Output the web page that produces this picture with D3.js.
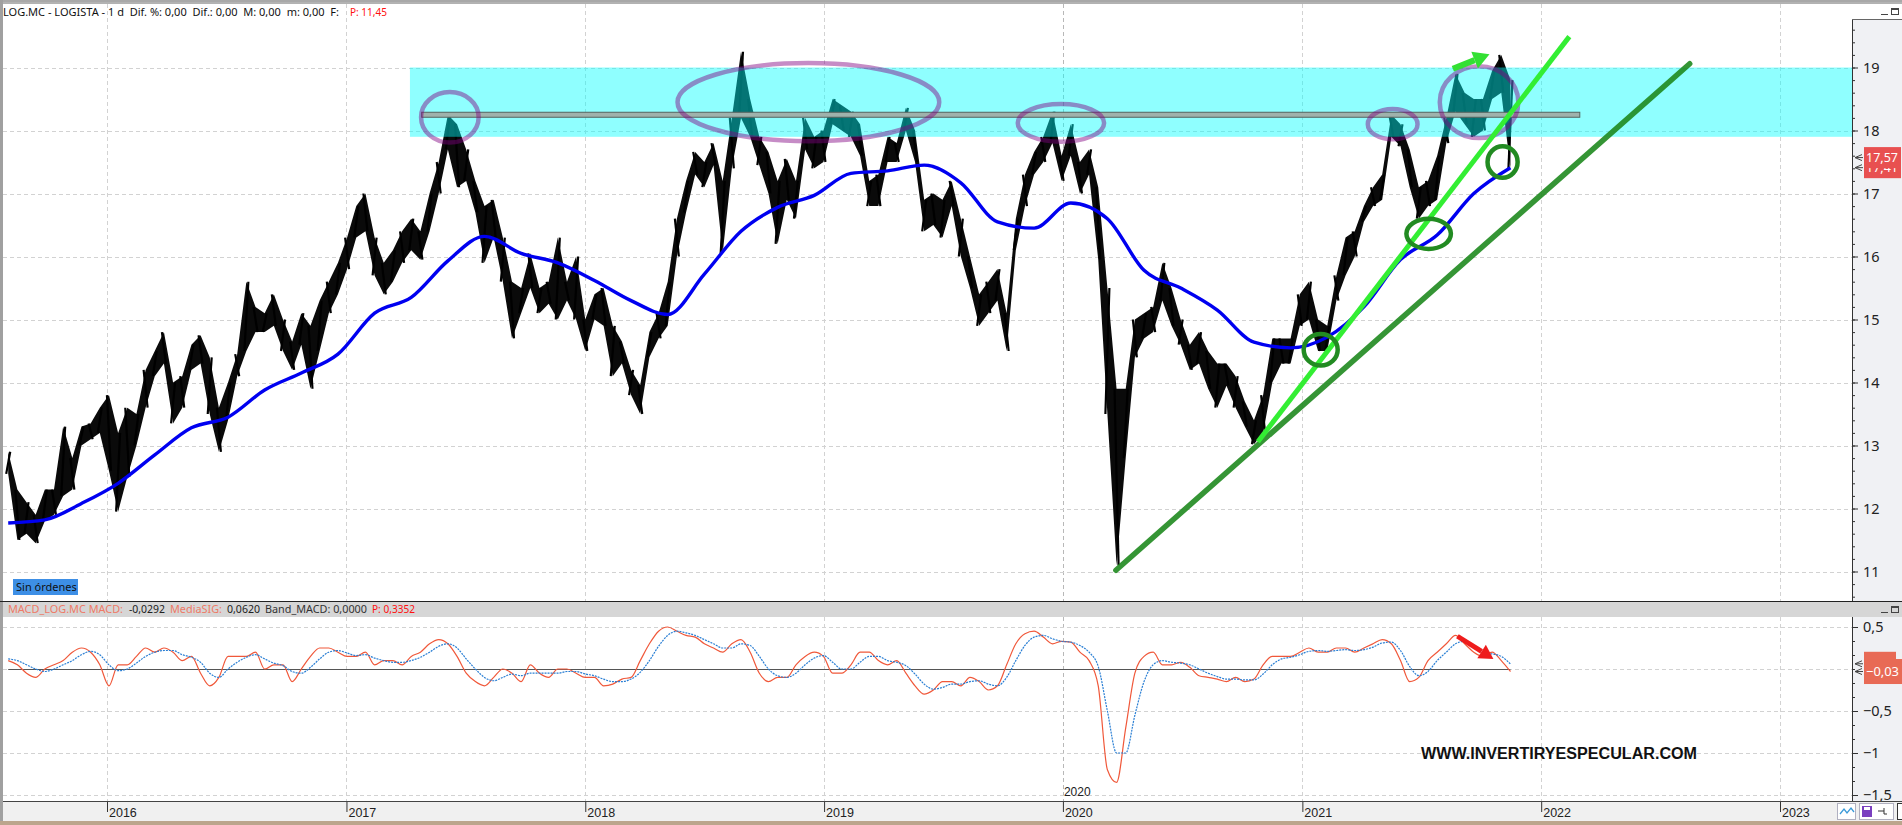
<!DOCTYPE html>
<html><head><meta charset="utf-8">
<script src="https://cdn.jsdelivr.net/npm/d3@7"></script>
<style>
html,body{margin:0;padding:0;background:#fff;overflow:hidden}
svg{display:block}
text{white-space:pre}
</style></head><body>
<svg id="c" width="1902" height="825"></svg>
<script>
// ---------- DATA ----------
const startDate = "2015-08-03";   // first bar (2-week bars)
const stepDays = 14;
const highs = [
12.9,12.3,12.1,11.9,12.3,12.3,13.3,12.8,13.3,13.35,
13.6,13.8,13.2,13.6,13.5,14.2,14.5,14.8,14.0,14.1,
14.6,14.75,14.4,13.6,14.0,14.45,15.6,15.2,15.1,15.4,
15.0,14.65,15.1,14.9,15.3,15.6,15.9,16.3,16.8,17.0,
16.3,15.9,16.1,16.4,16.6,16.4,17.0,17.5,18.25,18.1,
17.7,17.2,16.8,16.9,16.3,15.6,15.5,16.05,15.5,15.6,
16.3,15.6,16.0,15.0,15.4,15.5,14.9,14.65,14.2,13.96,
14.8,15.1,15.6,16.6,17.2,17.66,17.5,17.8,17.2,18.2,
19.25,18.5,17.9,17.66,17.2,17.55,17.2,18.2,17.9,18.0,
18.5,18.4,18.3,18.1,17.2,17.3,17.9,17.8,18.36,18.0,
16.9,17.0,16.9,17.2,16.6,16.0,15.4,15.6,15.8,15.1,
16.6,17.3,17.66,17.9,18.3,17.6,18.1,17.5,17.7,17.1,
15.5,13.9,13.9,15.0,15.1,15.2,15.9,15.5,15.0,14.6,
14.8,14.5,14.3,14.3,14.1,13.7,13.4,13.8,14.7,14.7,
14.7,15.4,15.6,15.0,14.9,15.7,16.3,16.4,16.8,17.1,
17.3,18.25,18.1,17.7,17.1,17.2,17.6,18.2,18.9,18.6,
18.5,18.5,18.95,19.2,18.8];
const lows = [
12.55,11.5,11.6,11.45,11.8,11.9,12.2,12.3,13.0,13.1,
13.2,12.6,11.95,12.5,13.0,13.6,14.1,14.3,13.35,13.6,
14.2,14.3,13.5,12.9,13.4,14.1,14.5,14.8,14.8,14.9,
14.5,14.2,14.6,13.9,14.5,15.1,15.4,15.8,16.3,16.4,
15.7,15.4,15.6,15.9,16.1,15.95,16.4,17.0,17.7,17.1,
17.2,16.7,15.9,16.3,15.6,14.7,15.1,15.5,15.1,15.25,
15.0,15.3,15.0,14.5,15.0,14.9,14.1,14.3,13.8,13.5,
14.4,14.7,14.9,16.0,16.7,17.3,17.1,17.45,16.05,17.4,
18.2,17.9,17.45,17.0,16.2,16.9,16.6,17.7,17.4,17.5,
18.1,18.0,17.9,17.6,16.8,16.8,17.5,17.5,18.0,17.5,
16.4,16.5,16.3,16.8,16.0,15.5,14.9,15.1,15.3,14.5,
16.1,16.8,17.3,17.5,17.8,17.2,17.6,17.0,17.3,15.95,
13.5,11.1,12.8,14.4,14.7,14.8,15.3,14.9,14.6,14.2,
14.3,13.9,13.6,13.95,13.6,13.3,13.02,13.2,14.0,14.3,
14.3,14.9,15.0,14.5,14.5,15.3,15.7,16.0,16.55,16.8,
16.9,17.9,17.75,17.1,16.6,16.8,16.9,17.8,18.3,18.1,
17.9,18.0,18.5,18.6,17.4];
const maStep = 4;  // moving average read every 4th bar
const maValues = [11.77,11.82,12.08,12.4,12.85,13.28,13.45,13.88,14.15,14.45,15.1,15.35,15.93,16.32,16.05,15.9,15.62,15.3,15.08,15.72,16.4,16.78,16.97,17.32,17.36,17.45,17.17,16.55,16.45,16.85,16.6,15.78,15.5,15.15,14.64,14.55,14.72,15.2,15.95,16.34,17.0,17.41];
const macdValues = [
0.1,0.05,-0.05,-0.1,0.0,0.05,0.1,0.2,0.25,0.2,
0.05,-0.2,0.05,0.05,0.15,0.25,0.2,0.25,0.2,0.1,
0.15,-0.05,-0.2,-0.1,0.15,0.15,0.15,0.2,0.0,0.05,
0.05,-0.15,0.0,0.15,0.25,0.25,0.2,0.15,0.15,0.2,
0.05,0.1,0.1,0.05,0.15,0.2,0.3,0.35,0.3,0.15,
-0.05,-0.15,-0.2,-0.1,0.0,-0.05,-0.15,0.05,-0.05,-0.1,
0.0,0.0,-0.05,-0.1,-0.1,-0.2,-0.18,-0.12,-0.1,0.1,
0.3,0.45,0.5,0.45,0.4,0.38,0.3,0.25,0.2,0.3,
0.35,0.2,-0.05,-0.15,-0.1,-0.1,0.05,0.15,0.2,0.15,
-0.05,-0.05,0.05,0.2,0.2,0.1,0.05,0.1,-0.05,-0.2,
-0.3,-0.25,-0.15,-0.15,-0.2,-0.1,-0.15,-0.25,-0.2,0.05,
0.3,0.42,0.45,0.38,0.3,0.33,0.32,0.2,0.1,-0.2,
-1.2,-1.35,-0.7,-0.05,0.15,0.2,0.05,0.05,0.08,0.02,
-0.08,-0.1,-0.12,-0.15,-0.1,-0.15,-0.12,0.05,0.15,0.15,
0.15,0.2,0.25,0.2,0.2,0.25,0.25,0.2,0.25,0.3,
0.35,0.3,0.1,-0.15,-0.1,0.1,0.2,0.3,0.4,0.3,
0.2,0.15,0.2,0.1,-0.03];
const signalValues = [
0.12,0.1,0.05,0.0,-0.03,0.0,0.05,0.1,0.17,0.21,
0.17,0.05,-0.02,0.0,0.07,0.15,0.2,0.22,0.22,0.17,
0.14,0.08,-0.05,-0.1,0.0,0.08,0.14,0.17,0.12,0.07,
0.04,-0.03,-0.05,0.02,0.12,0.2,0.22,0.19,0.16,0.17,
0.13,0.1,0.08,0.08,0.1,0.14,0.2,0.27,0.3,0.25,
0.12,0.0,-0.1,-0.14,-0.1,-0.06,-0.08,-0.05,-0.05,-0.05,
-0.05,-0.03,-0.03,-0.06,-0.08,-0.12,-0.15,-0.15,-0.12,-0.04,
0.1,0.27,0.4,0.45,0.43,0.4,0.35,0.3,0.25,0.25,
0.3,0.28,0.15,0.0,-0.08,-0.1,-0.05,0.05,0.13,0.16,
0.08,0.0,0.0,0.08,0.15,0.15,0.1,0.08,0.04,-0.06,
-0.18,-0.24,-0.22,-0.18,-0.18,-0.15,-0.14,-0.18,-0.2,-0.1,
0.1,0.28,0.38,0.4,0.36,0.33,0.32,0.28,0.2,0.03,
-0.5,-1.0,-1.0,-0.55,-0.15,0.05,0.1,0.08,0.07,0.05,
0.0,-0.05,-0.09,-0.12,-0.12,-0.13,-0.13,-0.06,0.05,0.12,
0.14,0.17,0.21,0.22,0.21,0.22,0.23,0.22,0.23,0.26,
0.31,0.32,0.22,0.03,-0.08,-0.03,0.1,0.2,0.3,0.33,
0.27,0.2,0.18,0.15,0.06];
const priceTicks = [11,12,13,14,15,16,17,18,19];
const macdTicks = [0.5,-0.5,-1,-1.5];
const yearTicks = ["2016","2017","2018","2019","2020","2021","2022","2023"];
const lastPrice = 17.57, lastMA = 17.41, lastMacd = -0.03, lastSignal = 0.062;
// annotations (data space)
const zoneBand = {from:"2017-04-08", to:"2023-12-31", lo:17.9, hi:19.0};
const resistLine = {from:"2017-04-26", to:"2022-03-01", value:18.25};
const purpleEllipses = [
  {date:"2017-06-08", price:18.21, rxDays:44, ry:0.40},
  {date:"2018-12-08", price:18.45, rxDays:200, ry:0.62},
  {date:"2019-12-29", price:18.12, rxDays:66, ry:0.30},
  {date:"2021-05-19", price:18.10, rxDays:38, ry:0.24},
  {date:"2021-09-28", price:18.45, rxDays:60, ry:0.57}];
const greenCircles = [
  {date:"2021-01-29", price:14.52, rxDays:26, ry:0.25},
  {date:"2021-07-13", price:16.36, rxDays:34, ry:0.24},
  {date:"2021-11-03", price:17.50, rxDays:23, ry:0.25}];
const limeTrend = [{date:"2020-10-25", price:13.06},{date:"2022-02-13", price:19.49}];
const darkTrend = [{date:"2020-03-22", price:11.02},{date:"2022-08-16", price:19.06}];
const greenArrow = [{date:"2021-08-19", price:18.98},{date:"2021-10-14", price:19.21}];
const redArrow = [{date:"2021-08-26", v:0.39},{date:"2021-10-20", v:0.12}];

// ---------- SETUP ----------
const svg = d3.select("#c");
const W = 1902, H = 825, AX = 1852;
const parse = d3.timeParse("%Y-%m-%d");
const t0 = parse(startDate);
const dates = highs.map((_, i) => d3.timeDay.offset(t0, i * stepDays));
const x = d3.scaleTime().domain([parse("2016-01-01"), parse("2023-01-01")]).range([107, 1780]);
const yP = d3.scaleLinear().domain([11, 19]).range([571.5, 67.5]);
const yM = d3.scaleLinear().domain([-1.5, 0.5]).range([795, 627]);
const loc = d3.formatLocale({decimal: ",", thousands: ".", grouping: [3], currency: ["", "€"]});
const f2 = loc.format(".2f"), f1 = loc.format("~g");
const FONT = "'Noto Sans', 'Open Sans', sans-serif";

svg.append("rect").attr("width", W).attr("height", H).attr("fill", "#fff");
const P = {top: 4, bottom: 601}, M = {top: 617, bottom: 801};
svg.append("rect").attr("x", AX).attr("y", 19).attr("width", W - AX).attr("height", P.bottom - 19).attr("fill", "#f0f1f4");
svg.append("rect").attr("x", AX).attr("y", M.top).attr("width", W - AX).attr("height", M.bottom - M.top).attr("fill", "#f0f1f4");

svg.append("clipPath").attr("id", "cp").append("rect").attr("x", 3).attr("y", 19).attr("width", AX - 3).attr("height", P.bottom - 19);
svg.append("clipPath").attr("id", "cm").append("rect").attr("x", 3).attr("y", M.top).attr("width", AX - 3).attr("height", M.bottom - M.top);

// grid
const grid = svg.append("g").attr("stroke", "#d2d2d2").attr("stroke-dasharray", "4,3").attr("stroke-width", 1);
yearTicks.forEach(yr => {
  const xx = Math.round(x(parse(yr + "-01-01"))) + 0.5;
  grid.append("line").attr("x1", xx).attr("x2", xx).attr("y1", P.top).attr("y2", P.bottom)
    .attr("stroke", yr === "2020" ? "#b8b8b8" : null);
  grid.append("line").attr("x1", xx).attr("x2", xx).attr("y1", M.top).attr("y2", M.bottom)
    .attr("stroke", yr === "2020" ? "#b8b8b8" : null);
});
priceTicks.forEach(v => {
  const yy = Math.round(yP(v)) + 0.5;
  grid.append("line").attr("x1", 3).attr("x2", AX).attr("y1", yy).attr("y2", yy);
});
[0.5, 0, -0.5, -1, -1.5].forEach(v => {
  const yy = Math.round(yM(v)) + 0.5;
  grid.append("line").attr("x1", 3).attr("x2", AX).attr("y1", yy).attr("y2", yy);
});

// ---------- PRICE PANEL ----------
const gp = svg.append("g").attr("clip-path", "url(#cp)");
const idx = d3.range(highs.length);
const ribbon = d3.area().x(i => x(dates[i])).y0(i => yP(lows[i])).y1(i => yP(highs[i])).curve(d3.curveLinear);
gp.append("path").datum(idx).attr("d", ribbon).attr("fill", "#0a0a0a");
gp.append("g").selectAll("line").data(idx).join("line")
  .attr("x1", i => x(dates[i]) - 2).attr("x2", i => x(dates[i]) + 2)
  .attr("y1", i => yP(i % 2 ? highs[i] : lows[i])).attr("y2", i => yP(i % 2 ? lows[i] : highs[i]))
  .attr("stroke", "#000").attr("stroke-width", 2.2);
const maLine = d3.line().x((d, k) => x(dates[k * maStep])).y(d => yP(d)).curve(d3.curveMonotoneX);
gp.append("path").datum(maValues).attr("d", maLine).attr("fill", "none")
  .attr("stroke", "#0000f0").attr("stroke-width", 3.4);
gp.append("rect").attr("x", x(parse(zoneBand.from))).attr("width", x(parse(zoneBand.to)) - x(parse(zoneBand.from)))
  .attr("y", yP(zoneBand.hi)).attr("height", yP(zoneBand.lo) - yP(zoneBand.hi))
  .attr("fill", "#00ffff").attr("opacity", 0.44);
gp.append("rect").attr("x", x(parse(resistLine.from))).attr("width", x(parse(resistLine.to)) - x(parse(resistLine.from)))
  .attr("y", yP(resistLine.value) - 2.5).attr("height", 5)
  .attr("fill", "#9fb2ac").attr("stroke", "#56635f").attr("stroke-width", 1);
function ell(g, e, color, op, sw) {
  const cx = x(parse(e.date));
  const rx = x(d3.timeDay.offset(parse(e.date), e.rxDays)) - cx;
  const ry = yP(e.price - e.ry) - yP(e.price);
  g.append("ellipse").attr("cx", cx).attr("cy", yP(e.price)).attr("rx", rx).attr("ry", ry)
    .attr("fill", "none").attr("stroke", color).attr("stroke-opacity", op).attr("stroke-width", sw);
}
purpleEllipses.forEach(e => ell(gp, e, "#800080", 0.45, 4.5));
gp.append("line").attr("x1", x(parse(darkTrend[0].date))).attr("y1", yP(darkTrend[0].price))
  .attr("x2", x(parse(darkTrend[1].date))).attr("y2", yP(darkTrend[1].price))
  .attr("stroke", "#1f8a1f").attr("stroke-width", 5.5).attr("stroke-opacity", 0.9).attr("stroke-linecap", "round");
gp.append("line").attr("x1", x(parse(limeTrend[0].date))).attr("y1", yP(limeTrend[0].price))
  .attr("x2", x(parse(limeTrend[1].date))).attr("y2", yP(limeTrend[1].price))
  .attr("stroke", "#33ee33").attr("stroke-width", 5).attr("stroke-linecap", "butt");
greenCircles.forEach(e => ell(gp, e, "#228b22", 1, 4.5));
function arrow(g, x1, y1, x2, y2, color, sw, hl, hw) {
  const ang = Math.atan2(y2 - y1, x2 - x1);
  const bx = x2 - hl * Math.cos(ang), by = y2 - hl * Math.sin(ang);
  g.append("line").attr("x1", x1).attr("y1", y1).attr("x2", bx).attr("y2", by).attr("stroke", color).attr("stroke-width", sw);
  g.append("path").attr("fill", color)
    .attr("d", `M${x2},${y2}L${bx - hw * Math.sin(ang)},${by + hw * Math.cos(ang)}L${bx + hw * Math.sin(ang)},${by - hw * Math.cos(ang)}Z`);
}
arrow(gp, x(parse(greenArrow[0].date)), yP(greenArrow[0].price), x(parse(greenArrow[1].date)), yP(greenArrow[1].price), "#33e033", 6, 16, 9);

// ---------- MACD PANEL ----------
const gm = svg.append("g").attr("clip-path", "url(#cm)");
gm.append("line").attr("x1", x(dates[0])).attr("x2", x(dates[dates.length - 1]))
  .attr("y1", Math.round(yM(0)) + 0.5).attr("y2", Math.round(yM(0)) + 0.5).attr("stroke", "#555").attr("stroke-width", 1);
const mLine = d3.line().x((d, i) => x(dates[i])).y(d => yM(d)).curve(d3.curveMonotoneX);
gm.append("path").datum(macdValues).attr("d", mLine).attr("fill", "none").attr("stroke", "#f0583a").attr("stroke-width", 1.2);
gm.append("path").datum(signalValues).attr("d", mLine).attr("fill", "none").attr("stroke", "#2a7fd4").attr("stroke-width", 1.2).attr("stroke-dasharray", "2,1");
arrow(gm, x(parse(redArrow[0].date)), yM(redArrow[0].v), x(parse(redArrow[1].date)), yM(redArrow[1].v), "#ee1c1c", 5, 14, 8);
svg.append("text").attr("x", x(parse("2020-01-01")) + 1).attr("y", 796).attr("font-family", "'Liberation Sans Narrow','Liberation Sans',sans-serif")
  .attr("font-size", 12).attr("fill", "#222").text("2020");
svg.append("text").attr("x", 1559).attr("y", 759).attr("text-anchor", "middle")
  .attr("font-family", "'Liberation Sans', Arial, sans-serif").attr("font-weight", "bold").attr("font-size", 16)
  .attr("textLength", 276).attr("lengthAdjust", "spacingAndGlyphs").attr("fill", "#111").text("WWW.INVERTIRYESPECULAR.COM");

// ---------- AXES ----------
const ayP = svg.append("g").attr("transform", `translate(${AX},0)`)
  .call(d3.axisRight(yP).tickValues(priceTicks).tickSize(6).tickPadding(5).tickFormat(f1));
ayP.select(".domain").remove();
ayP.selectAll("text").attr("font-family", FONT).attr("font-size", 14.5).attr("fill", "#222");
ayP.selectAll("line").attr("stroke", "#333");
svg.append("g").attr("transform", `translate(${AX},0)`)
  .call(d3.axisRight(yP).tickValues(d3.range(10.6, 19.7, 0.2)).tickSize(3).tickFormat(""))
  .call(g => { g.select(".domain").remove(); g.selectAll("line").attr("stroke", "#333"); });
svg.append("line").attr("x1", AX + 0.5).attr("x2", AX + 0.5).attr("y1", 19).attr("y2", P.bottom).attr("stroke", "#333");
svg.append("line").attr("x1", AX).attr("x2", W).attr("y1", 19.5).attr("y2", 19.5).attr("stroke", "#666");
const ayM = svg.append("g").attr("transform", `translate(${AX},0)`)
  .call(d3.axisRight(yM).tickValues(macdTicks).tickSize(6).tickPadding(5).tickFormat(loc.format("~g")));
ayM.select(".domain").remove();
ayM.selectAll("text").attr("font-family", FONT).attr("font-size", 14.5).attr("fill", "#222");
ayM.selectAll("line").attr("stroke", "#333");
svg.append("g").attr("transform", `translate(${AX},0)`)
  .call(d3.axisRight(yM).tickValues(d3.range(-10, 4).map(k => k / 6)).tickSize(3).tickFormat(""))
  .call(g => { g.select(".domain").remove(); g.selectAll("line").attr("stroke", "#333"); });
svg.append("line").attr("x1", AX + 0.5).attr("x2", AX + 0.5).attr("y1", M.top).attr("y2", M.bottom).attr("stroke", "#333");

// last value labels
function lastLabel(y, txt, w, h, color, clipTop) {
  svg.append("rect").attr("x", AX + 12).attr("y", y - h / 2).attr("width", w).attr("height", h).attr("fill", color);
  if (txt) {
    const t = svg.append("text").attr("x", AX + 14).attr("y", y + 4.5).attr("font-family", FONT).attr("font-size", 13)
      .attr("fill", "#fff").attr("textLength", w - 5).attr("lengthAdjust", "spacingAndGlyphs").text(txt);
    if (clipTop != null) {
      const id = "lc" + Math.round(y);
      svg.append("clipPath").attr("id", id).append("rect").attr("x", AX).attr("y", clipTop).attr("width", 60).attr("height", 30);
      t.attr("clip-path", `url(#${id})`);
    }
  }
  svg.append("path").attr("d", `M${AX + 10},${y - 3}L${AX + 3},${y}L${AX + 10},${y + 3}M${AX + 3},${y}H${AX + 11}`)
    .attr("stroke", "#444").attr("fill", "none").attr("stroke-width", 1);
}
lastLabel(yP(lastMA), f2(lastMA), 37, 21, "#e85050", yP(lastPrice) + 10.5);
lastLabel(yP(lastPrice), f2(lastPrice), 37, 21, "#e85050");
lastLabel(yM(lastSignal), "", 32, 24, "#e86a55");
lastLabel(yM(lastMacd), f2(lastMacd), 38, 25, "#e86a55");

// time axis
svg.append("rect").attr("x", 0).attr("y", M.bottom).attr("width", W).attr("height", 21).attr("fill", "#f0f0f0");
const ax = svg.append("g").attr("transform", `translate(0,${M.bottom})`)
  .call(d3.axisBottom(x).tickValues(yearTicks.map(s => parse(s + "-01-01"))).tickSize(11).tickFormat(d3.timeFormat("%Y")));
ax.select(".domain").remove();
ax.selectAll("line").attr("stroke", "#333");
ax.selectAll("text").attr("text-anchor", "start").attr("x", 1.5).attr("y", 7).attr("dy", "0.71em")
  .attr("font-family", "'Liberation Sans Narrow','Liberation Sans',sans-serif").attr("font-size", 12.5).attr("fill", "#222");
svg.append("line").attr("x1", 0).attr("x2", W).attr("y1", M.bottom + 0.5).attr("y2", M.bottom + 0.5).attr("stroke", "#444");

// ---------- FRAME / HEADERS ----------
svg.append("rect").attr("x", 0).attr("y", 0).attr("width", W).attr("height", 2).attr("fill", "#a8a8a8");
svg.append("line").attr("x1", 0).attr("x2", W).attr("y1", 3).attr("y2", 3).attr("stroke", "#666");
svg.append("rect").attr("x", 0).attr("y", 0).attr("width", 3).attr("height", H).attr("fill", "#a0a0a0");
svg.append("rect").attr("x", 0).attr("y", 821).attr("width", W).attr("height", 4).attr("fill", "#bba58c");
svg.append("line").attr("x1", 0).attr("x2", W).attr("y1", P.bottom + 0.5).attr("y2", P.bottom + 0.5).attr("stroke", "#222");
svg.append("rect").attr("x", 3).attr("y", P.bottom + 1).attr("width", W - 3).attr("height", M.top - P.bottom - 1).attr("fill", "#d6d6d6");
function winIcons(y) {
  svg.append("line").attr("x1", 1881).attr("x2", 1888).attr("y1", y + 6.5).attr("y2", y + 6.5).attr("stroke", "#444");
  svg.append("rect").attr("x", 1891.5).attr("y", y + 0.5).attr("width", 7).attr("height", 6).attr("fill", "none").attr("stroke", "#444");
  svg.append("line").attr("x1", 1891.5).attr("x2", 1898.5).attr("y1", y + 1.5).attr("y2", y + 1.5).attr("stroke", "#444");
}
winIcons(8); winIcons(606);

function piece(x0, y, w, t, c, fs) {
  svg.append("text").attr("x", x0).attr("y", y).attr("font-family", FONT).attr("font-size", fs || 11).attr("fill", c)
    .attr("textLength", w).attr("lengthAdjust", "spacingAndGlyphs").text(t);
}
piece(3, 16, 336, "LOG.MC - LOGISTA - 1 d  Dif. %: 0,00  Dif.: 0,00  M: 0,00  m: 0,00  F:", "#111");
piece(350, 16, 37, "P: 11,45", "#ff1010");
piece(8, 613, 115, "MACD_LOG.MC MACD:", "#ee7a66");
piece(129, 613, 36, "-0,0292", "#222");
piece(170, 613, 52, "MediaSIG:", "#ee7a66");
piece(227, 613, 33, "0,0620", "#222");
piece(265, 613, 102, "Band_MACD: 0,0000", "#333");
piece(372, 613, 43, "P: 0,3352", "#ff1010");

svg.append("rect").attr("x", 13).attr("y", 579).attr("width", 65).attr("height", 16).attr("fill", "#3d8fe6");
svg.append("text").attr("x", 16).attr("y", 591).attr("font-family", FONT).attr("font-size", 11).attr("fill", "#111").text("Sin órdenes");

svg.append("rect").attr("x", 1837.5).attr("y", 803.5).attr("width", 18).attr("height", 16).attr("fill", "#fff").attr("stroke", "#b0b0c0");
svg.append("path").attr("d", "M1840,814l4,-5l3,4l4,-5l3,4").attr("fill", "none").attr("stroke", "#3a9ad9").attr("stroke-width", 1.3);
svg.append("rect").attr("x", 1859.5).attr("y", 803.5).attr("width", 34).attr("height", 16).attr("fill", "#fff").attr("stroke", "#b0b0c0");
svg.append("rect").attr("x", 1862).attr("y", 806).attr("width", 10).attr("height", 11).attr("fill", "#7a3fbf");
svg.append("rect").attr("x", 1864).attr("y", 807).attr("width", 6).attr("height", 3).attr("fill", "#fff");
svg.append("path").attr("d", "M1878,811h6M1884,808v6h3").attr("stroke", "#333").attr("fill", "none");
svg.append("rect").attr("x", 1897.5).attr("y", 803.5).attr("width", 6).attr("height", 16).attr("fill", "#fff").attr("stroke", "#333");
</script>
</body></html>
